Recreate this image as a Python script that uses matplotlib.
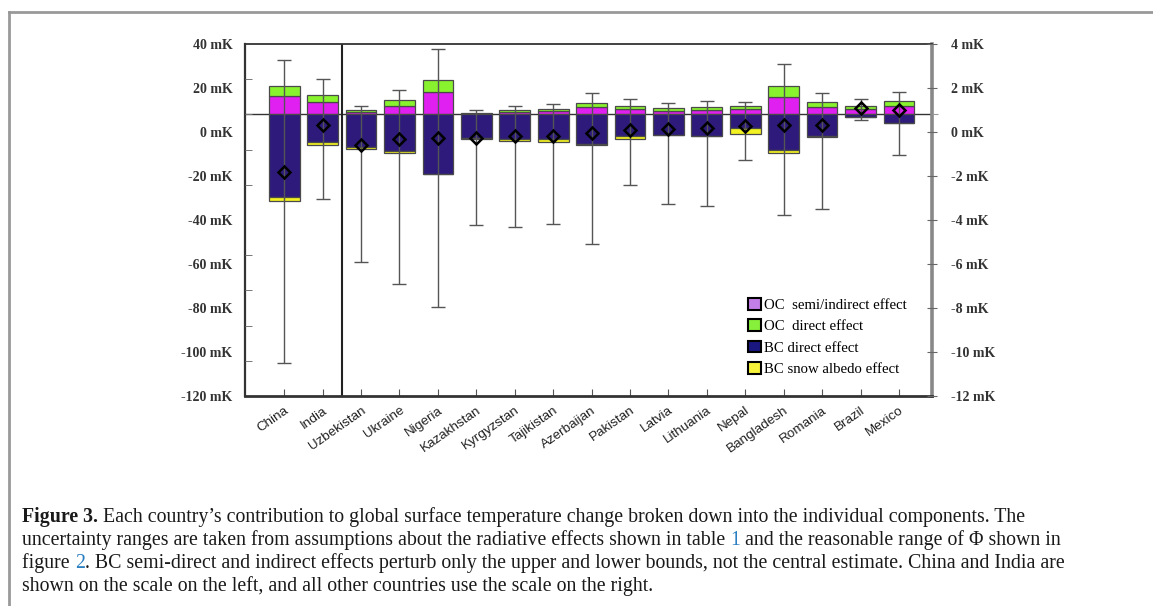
import numpy as np
import matplotlib
matplotlib.use('Agg')
import matplotlib.pyplot as plt
from matplotlib.patches import Patch
from matplotlib.lines import Line2D

# China and India are in mK on the left scale, the rest in mK on the right scale
countries = ['China', 'India', 'Uzbekistan', 'Ukraine', 'Nigeria', 'Kazakhstan',
             'Kyrgyzstan', 'Tajikistan', 'Azerbaijan', 'Pakistan', 'Latvia',
             'Lithuania', 'Nepal', 'Bangladesh', 'Romania', 'Brazil', 'Mexico']
oc_indirect = [8.0, 5.3, 0.08, 0.38, 0.98, 0.02, 0.08, 0.15, 0.33, 0.24, 0.15,
               0.18, 0.23, 0.77, 0.32, 0.24, 0.36]
oc_direct = [4.9, 3.5, 0.08, 0.24, 0.58, 0.02, 0.08, 0.09, 0.18, 0.14, 0.12,
             0.14, 0.14, 0.48, 0.21, 0.14, 0.24]
bc_direct = [-37.7, -12.9, -1.48, -1.67, -2.71, -1.10, -1.14, -1.14, -1.38, -0.98,
             -0.95, -0.98, -0.64, -1.62, -1.00, -0.12, -0.42]
bc_snow = [-1.7, -1.2, -0.09, -0.12, -0.01, -0.02, -0.09, -0.14, -0.01, -0.14,
           -0.02, -0.02, -0.27, -0.17, -0.05, 0.0, 0.0]
central = [-26.5, -5.2, -1.39, -1.14, -1.11, -1.09, -1.02, -1.00, -0.85, -0.73,
           -0.68, -0.65, -0.55, -0.52, -0.52, 0.26, 0.20]
upper = [24.7, 15.9, 0.38, 1.11, 2.95, 0.17, 0.36, 0.44, 0.95, 0.68, 0.50,
         0.59, 0.53, 2.27, 0.94, 0.68, 1.02]
lower = [-113.0, -38.6, -6.74, -7.71, -8.77, -5.05, -5.15, -5.00, -5.90, -3.23,
         -4.09, -4.17, -2.09, -4.60, -4.33, -0.26, -1.85]
n_left = 2  # countries drawn against the left scale

left_ticks = list(range(-120, 41, 20))
right_ticks = list(range(-12, 5, 2))

C_OCI = '#e020f0'
C_OCD = '#88f22e'
C_BCD = '#2d1a7a'
C_SNOW = '#f2f222'

# put everything on the right-hand scale
scale = np.array([0.1] * n_left + [1.0] * (len(countries) - n_left))
oci = np.array(oc_indirect) * scale
ocd = np.array(oc_direct) * scale
bcd = np.array(bc_direct) * scale
snw = np.array(bc_snow) * scale
cen = np.array(central) * scale
hi = np.array(upper) * scale
lo = np.array(lower) * scale

fig = plt.figure(figsize=(11.53, 6.06), dpi=100)
ax = fig.add_axes([245 / 1153, 1 - 396 / 606, 687 / 1153, 352 / 606])

x = np.arange(len(countries))
w = 0.8
edge = dict(edgecolor='#4a4a4a', linewidth=0.9)
ax.axhline(0, color='#333333', lw=1.0, zorder=1)
ax.bar(x, oci, w, color=C_OCI, zorder=2, **edge)
ax.bar(x, ocd, w, bottom=oci, color=C_OCD, zorder=2, **edge)
ax.bar(x, bcd, w, color=C_BCD, zorder=2, **edge)
ax.bar(x, snw, w, bottom=bcd, color=C_SNOW, zorder=2, **edge)
ax.errorbar(x, cen, yerr=[cen - lo, hi - cen], fmt='none', ecolor='#555555',
            elinewidth=1.0, capsize=4.7, capthick=1.0, zorder=3)
ax.plot(x, cen, ls='none', marker='D', ms=6.5, mfc='none', mec='black',
        mew=1.8, zorder=4)
ax.axvline(1.5, color='#222222', lw=1.5, zorder=1)

# baseline sits 70 px below the top of the frame
ax.set_ylim(-12.82, 3.18)
ax.set_xlim(-1.02, 16.86)
ax.set_yticks([])
ax.set_xticks(x)
ax.set_xticklabels(countries, rotation=35, ha='right', rotation_mode='anchor',
                   family='Liberation Sans', fontsize=9.7, color='#222222')
ax.tick_params(axis='x', direction='in', length=5, width=0.8, color='#555555', pad=6)
for side, lw, col in [('left', 1.6, '#333333'), ('top', 1.3, '#333333'),
                      ('bottom', 2.0, '#333333'), ('right', 2.6, '#888888')]:
    ax.spines[side].set_linewidth(lw)
    ax.spines[side].set_color(col)

label_font = dict(family='Liberation Serif', fontsize=10, fontweight='bold')

axl = ax.twinx()
axl.set_ylim(-120, 40)
axl.yaxis.tick_left()
axl.set_yticks(left_ticks)
axl.set_yticklabels([f'{v} mK' for v in left_ticks], color='#333333', **label_font)
axl.set_yticks(np.linspace(-120, 40, 11), minor=True)
axl.tick_params(axis='y', which='major', length=0, pad=9)
axl.tick_params(axis='y', which='minor', direction='in', length=5, width=0.7,
                color='#777777')
for s in axl.spines.values():
    s.set_visible(False)

axr = ax.twinx()
axr.set_ylim(-12, 4)
axr.set_yticks(right_ticks)
axr.set_yticklabels([f'{v} mK' for v in right_ticks], color='#333333', **label_font)
axr.set_yticks([4 - 70 / 22], minor=True)
axr.tick_params(axis='y', which='major', direction='inout', length=7, width=0.8,
                color='#666666', pad=10)
axr.tick_params(axis='y', which='minor', direction='out', length=4, width=0.8,
                color='#999999', pad=10)
for s in axr.spines.values():
    s.set_visible(False)

handles = [Patch(facecolor='#c47ee8', edgecolor='black', lw=1.5),
           Patch(facecolor='#86f03a', edgecolor='black', lw=1.5),
           Patch(facecolor='#1a1780', edgecolor='black', lw=1.5),
           Patch(facecolor='#f6f33a', edgecolor='black', lw=1.5)]
labels = ['OC  semi/indirect effect', 'OC  direct effect', 'BC direct effect',
          'BC snow albedo effect']
fig.legend(handles, labels, loc='upper left',
           bbox_to_anchor=(748 / 1153, 1 - 298 / 606), frameon=False,
           prop=dict(family='Liberation Serif', size=10.6), handlelength=0.85,
           handleheight=0.85, handletextpad=0.25, labelspacing=0.5, borderpad=0,
           borderaxespad=0)

# page frame
fig.add_artist(Line2D([9 / 1153, 9 / 1153], [0, 1 - 12 / 606], color='#999999', lw=2))
fig.add_artist(Line2D([9 / 1153, 1], [1 - 12 / 606, 1 - 12 / 606], color='#999999', lw=2))

# caption, written piece by piece so the bold and blue parts line up
cap_family = 'Liberation Serif'
cap_size = 14.3
caption = [
    [('Figure 3.', 'bold', '#1a1a1a'),
     (' Each country\u2019s contribution to global surface temperature change broken '
      'down into the individual components. The', 'normal', '#1a1a1a')],
    [('uncertainty ranges are taken from assumptions about the radiative effects '
      'shown in table ', 'normal', '#1a1a1a'), ('1', 'normal', '#2a7fc0'),
     (' and the reasonable range of \u03a6 shown in', 'normal', '#1a1a1a')],
    [('figure ', 'normal', '#1a1a1a'), ('2', 'normal', '#2a7fc0'),
     ('. BC semi-direct and indirect effects perturb only the upper and lower bounds, '
      'not the central estimate. China and India are', 'normal', '#1a1a1a')],
    [('shown on the scale on the left, and all other countries use the scale on the '
      'right.', 'normal', '#1a1a1a')],
]
renderer = fig.canvas.get_renderer()
line_y = [522, 545, 568, 591]
for parts, ypx in zip(caption, line_y):
    xpx = 22
    for txt, weight, col in parts:
        t = fig.text(xpx / 1153, 1 - ypx / 606, txt, ha='left', va='baseline',
                     family=cap_family, fontsize=cap_size, fontweight=weight, color=col)
        bb = t.get_window_extent(renderer=renderer)
        xpx += bb.width

fig.savefig('out.png', dpi=100)
